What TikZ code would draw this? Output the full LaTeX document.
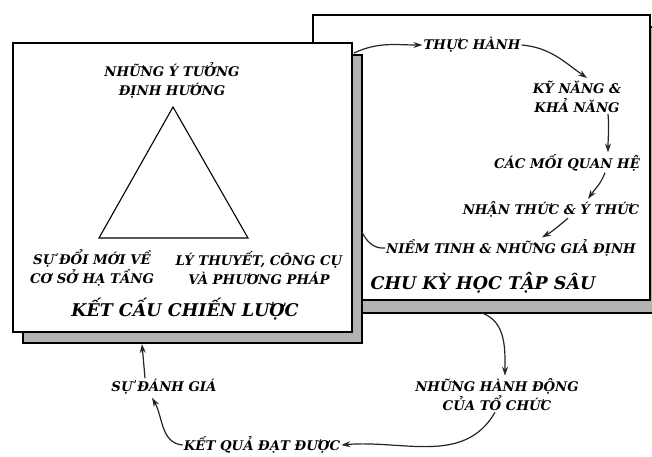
\documentclass[tikz,border=0pt]{standalone}
\usepackage{fontspec}
\setmainfont{DejaVu Serif}
\usetikzlibrary{arrows.meta}
\tikzset{
  lbl/.style={font=\bfseries\itshape\fontsize{13.3}{19}\selectfont, align=center, inner sep=1pt},
  ttl/.style={font=\bfseries\itshape\fontsize{17.5}{20}\selectfont, inner sep=1pt},
  boxw/.style={draw=black, line width=1.1pt, fill=white},
  boxs/.style={draw=black, line width=1.1pt, fill=black!30},
  conn/.style={draw=black!85, line width=1.2pt, -{Stealth[length=9pt,width=6pt]}},
  connplain/.style={draw=black!85, line width=1.2pt},
}
\begin{document}
\begin{tikzpicture}[x=1pt,y=-1pt]
\useasboundingbox (0,0) rectangle (652,456);
\fill[white] (0,0) rectangle (652,456);
\clip (0,0) rectangle (652,456);
% right box
\draw[boxs] (323,27) rectangle (665,313);
\draw[boxw] (313,15) rectangle (650,300);
% left box
\draw[boxs] (23,55) rectangle (362,343);
\draw[boxw] (13,43) rectangle (352,332);
% triangle
\draw[line width=1.1pt] (173,107) -- (99,238) -- (248,238) -- cycle;
% left box texts
\node[lbl] (n1) at (172,80) {NHỮNG Ý TƯỞNG\\ĐỊNH HƯỚNG};
\node[lbl] (n2) at (92,268) {SỰ ĐỔI MỚI VỀ\\CƠ SỞ HẠ TẦNG};
\node[lbl] (n3) at (259,268) {LÝ THUYẾT, CÔNG CỤ\\VÀ PHƯƠNG PHÁP};
\node[ttl] (t1) at (185,309) {KẾT CẤU CHIẾN LƯỢC};
% right box texts
\node[lbl] (r1) at (472,45) {THỰC HÀNH};
\node[lbl] (r2) at (577,97) {KỸ NĂNG \&\\KHẢ NĂNG};
\node[lbl] (r3) at (567,163) {CÁC MỐI QUAN HỆ};
\node[lbl] (r4) at (551,209) {NHẬN THỨC \& Ý THỨC};
\node[lbl] (r5) at (511,248) {NIỀM TINH \& NHỮNG GIẢ ĐỊNH};
\node[ttl] (t2) at (483,283) {CHU KỲ HỌC TẬP SÂU};
% bottom texts
\node[lbl] (b1) at (497,395) {NHỮNG HÀNH ĐỘNG\\CỦA TỔ CHỨC};
\node[lbl] (b2) at (262,445) {KẾT QUẢ ĐẠT ĐƯỢC};
\node[lbl] (b3) at (164,387) {SỰ ĐÁNH GIÁ};
% anchor coordinates on box edges
\coordinate (lbtr) at (354,53);
\coordinate (lbr) at (362,232);
\coordinate (rbb) at (482,313);
\coordinate (lbb) at (142,344);
% connectors
\draw[conn] (lbtr) to[out=25,in=180] (r1.west);
\draw[conn] (r1.east) to[out=-5,in=145] ([xshift=10pt,yshift=2pt]r2.north);
\draw[conn] ([xshift=31pt]r2.south) to[out=-85,in=90] ([xshift=41pt,yshift=1pt]r3.north);
\draw[conn] ([xshift=38pt]r3.south) to[out=-110,in=55] ([xshift=37pt,yshift=1pt]r4.north);
\draw[conn] ([xshift=17pt]r4.south) to[out=-140,in=30] ([xshift=31pt,yshift=1pt]r5.north);
\draw[connplain] (r5.west) to[out=185,in=-65] (lbr);
\draw[conn] (rbb) to[out=-20,in=90] ([xshift=8pt,yshift=2pt]b1.north);
\draw[conn] ([xshift=-2pt]b1.south) to[out=-120,in=5] (b2.east);
\draw[conn] (b2.west) to[out=175,in=-60] ([xshift=-12pt,yshift=-2pt]b3.south);
\draw[conn] ([xshift=-19pt]b3.north) to[out=95,in=-85] (lbb);
\end{tikzpicture}
\end{document}
